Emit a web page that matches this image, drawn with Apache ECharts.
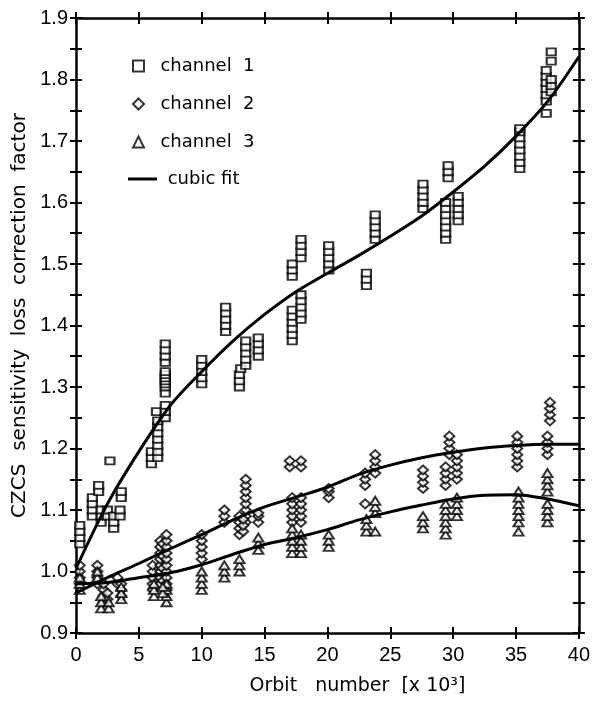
<!DOCTYPE html>
<html>
<head>
<meta charset="utf-8">
<script src="https://cdn.jsdelivr.net/npm/echarts@6/dist/echarts.min.js"></script>
<style>
  html, body { margin: 0; padding: 0; background: #fff; }
  #chart { width: 593px; height: 701px; }
</style>
</head>
<body>
<div id="chart"></div>
<script>
// tick labels
const xTicks = [0, 5, 10, 15, 20, 25, 30, 35, 40];
const yTicks = [0.9, 1.0, 1.1, 1.2, 1.3, 1.4, 1.5, 1.6, 1.7, 1.8, 1.9];

// channel 1 (squares) [orbit x1000, factor]
const channel1 = [
  [0.3, 1.045], [0.3, 1.055], [0.3, 1.065], [0.3, 1.075],
  [1.3, 1.09], [1.3, 1.10], [1.3, 1.11], [1.3, 1.12],
  [1.8, 1.13], [1.8, 1.14],
  [2.0, 1.08], [2.0, 1.09], [2.0, 1.10],
  [2.5, 1.09], [2.5, 1.10], [2.7, 1.18],
  [3.0, 1.07], [3.0, 1.08], [3.0, 1.09],
  [3.5, 1.09], [3.5, 1.10], [3.6, 1.12], [3.6, 1.13],
  [6.0, 1.175], [6.0, 1.185], [6.0, 1.195],
  [6.5, 1.185], [6.5, 1.195], [6.5, 1.205], [6.5, 1.215], [6.5, 1.225], [6.5, 1.235], [6.5, 1.245], [6.4, 1.26],
  [7.1, 1.25], [7.1, 1.26], [7.1, 1.27], [7.1, 1.29], [7.1, 1.30], [7.1, 1.305], [7.1, 1.31], [7.1, 1.315], [7.1, 1.32], [7.1, 1.325],
  [7.1, 1.34], [7.1, 1.35], [7.1, 1.36], [7.1, 1.37],
  [10.0, 1.305], [10.0, 1.315], [10.0, 1.325], [10.0, 1.335], [10.0, 1.345],
  [11.9, 1.39], [11.9, 1.40], [11.9, 1.41], [11.9, 1.42], [11.9, 1.43],
  [13.0, 1.30], [13.0, 1.31], [13.0, 1.32], [13.1, 1.33],
  [13.5, 1.335], [13.5, 1.345], [13.5, 1.355], [13.5, 1.365], [13.5, 1.375],
  [14.5, 1.35], [14.5, 1.36], [14.5, 1.37], [14.5, 1.38],
  [17.2, 1.375], [17.2, 1.385], [17.2, 1.395], [17.2, 1.405], [17.2, 1.415], [17.2, 1.425],
  [17.2, 1.48], [17.2, 1.49], [17.2, 1.50],
  [17.9, 1.41], [17.9, 1.42], [17.9, 1.43], [17.9, 1.44], [17.9, 1.45],
  [17.9, 1.51], [17.9, 1.52], [17.9, 1.53], [17.9, 1.54],
  [20.1, 1.49], [20.1, 1.50], [20.1, 1.51], [20.1, 1.52], [20.1, 1.53],
  [23.1, 1.465], [23.1, 1.475], [23.1, 1.485],
  [23.8, 1.54], [23.8, 1.55], [23.8, 1.56], [23.8, 1.57], [23.8, 1.58],
  [27.6, 1.59], [27.6, 1.60], [27.6, 1.61], [27.6, 1.62], [27.6, 1.63],
  [29.4, 1.54], [29.4, 1.55], [29.4, 1.56], [29.4, 1.57], [29.4, 1.58], [29.4, 1.59], [29.4, 1.60],
  [29.6, 1.64], [29.6, 1.65], [29.6, 1.66],
  [30.4, 1.57], [30.4, 1.58], [30.4, 1.59], [30.4, 1.60], [30.4, 1.61],
  [35.3, 1.655], [35.3, 1.665], [35.3, 1.675], [35.3, 1.685], [35.3, 1.695], [35.3, 1.705], [35.3, 1.715], [35.3, 1.72],
  [37.4, 1.745], [37.4, 1.765], [37.4, 1.775], [37.4, 1.785], [37.4, 1.795], [37.4, 1.805], [37.4, 1.815],
  [37.8, 1.78], [37.8, 1.79], [37.8, 1.80], [37.8, 1.83], [37.8, 1.845]
];

// channel 2 (diamonds)
const channel2 = [
  [0.3, 0.98], [0.3, 0.99], [0.3, 1.00], [0.3, 1.01],
  [1.7, 0.98], [1.7, 0.99], [1.7, 1.00], [1.7, 1.01],
  [2.2, 0.95], [2.2, 0.96], [2.2, 0.97], [2.2, 0.98], [2.5, 0.955], [2.5, 0.965],
  [3.3, 0.98], [3.3, 0.99],
  [3.6, 0.96], [3.6, 0.97], [3.6, 0.98],
  [6.1, 0.97], [6.1, 0.98], [6.1, 0.99], [6.1, 1.00], [6.1, 1.01],
  [6.7, 0.98], [6.7, 0.99], [6.7, 1.00], [6.7, 1.01], [6.7, 1.02], [6.7, 1.03], [6.7, 1.04], [6.7, 1.05],
  [6.9, 0.985], [6.9, 1.005], [6.9, 1.025], [6.9, 1.045],
  [7.2, 0.97], [7.2, 0.98], [7.2, 0.99], [7.2, 1.00], [7.2, 1.01], [7.2, 1.02], [7.2, 1.03], [7.2, 1.04], [7.2, 1.05], [7.2, 1.06],
  [10.0, 1.02], [10.0, 1.03], [10.0, 1.04], [10.0, 1.05], [10.0, 1.06],
  [11.8, 1.08], [11.8, 1.09], [11.8, 1.10],
  [13.0, 1.06], [13.0, 1.07], [13.0, 1.08], [13.0, 1.09],
  [13.5, 1.08], [13.5, 1.09], [13.5, 1.10], [13.5, 1.11], [13.5, 1.12], [13.5, 1.13], [13.5, 1.14], [13.5, 1.15],
  [13.3, 1.065], [13.3, 1.075], [13.3, 1.085],
  [14.5, 1.08], [14.5, 1.09], [14.5, 1.095],
  [17.0, 1.17], [17.0, 1.18],
  [17.2, 1.08], [17.2, 1.09], [17.2, 1.10], [17.2, 1.11], [17.2, 1.12],
  [17.9, 1.17], [17.9, 1.18], [17.9, 1.08], [17.9, 1.09], [17.9, 1.10], [17.9, 1.11], [17.9, 1.12],
  [20.1, 1.12], [20.1, 1.13], [20.1, 1.135],
  [23.0, 1.11], [23.0, 1.14], [23.0, 1.15], [23.0, 1.16],
  [23.8, 1.16], [23.8, 1.17], [23.8, 1.18], [23.8, 1.19],
  [27.6, 1.135], [27.6, 1.145], [27.6, 1.155], [27.6, 1.165],
  [29.4, 1.14], [29.4, 1.15], [29.4, 1.16], [29.4, 1.17],
  [29.7, 1.19], [29.7, 1.20], [29.7, 1.21], [29.7, 1.22],
  [30.3, 1.15], [30.3, 1.16], [30.3, 1.17], [30.3, 1.18], [30.3, 1.19],
  [35.1, 1.17], [35.1, 1.18], [35.1, 1.19], [35.1, 1.20], [35.1, 1.21], [35.1, 1.22],
  [37.5, 1.19], [37.5, 1.20], [37.5, 1.21], [37.5, 1.22],
  [37.7, 1.245], [37.7, 1.255], [37.7, 1.265], [37.7, 1.275]
];

// channel 3 (triangles)
const channel3 = [
  [0.3, 0.97], [0.3, 0.98], [0.3, 0.99],
  [1.7, 0.99], [1.7, 1.00],
  [2.0, 0.94], [2.0, 0.95], [2.0, 0.96],
  [2.6, 0.94], [2.6, 0.95],
  [3.6, 0.955], [3.6, 0.965], [3.6, 0.975],
  [6.2, 0.96], [6.2, 0.97], [6.2, 0.98],
  [7.2, 0.95], [7.2, 0.96], [7.2, 0.97], [7.2, 0.98], [6.9, 0.965], [6.9, 0.975],
  [10.0, 0.97], [10.0, 0.98], [10.0, 0.99], [10.0, 1.00],
  [11.8, 0.99], [11.8, 1.00], [11.8, 1.01],
  [13.0, 1.00], [13.0, 1.01], [13.0, 1.02],
  [14.5, 1.035], [14.5, 1.045], [14.5, 1.055],
  [17.2, 1.03], [17.2, 1.04], [17.2, 1.05], [17.2, 1.06], [17.2, 1.07],
  [17.9, 1.03], [17.9, 1.04], [17.9, 1.05], [17.9, 1.06],
  [20.1, 1.04], [20.1, 1.05], [20.1, 1.06],
  [23.1, 1.065], [23.1, 1.075], [23.1, 1.085],
  [23.8, 1.065], [23.8, 1.095], [23.8, 1.105], [23.8, 1.115],
  [27.6, 1.07], [27.6, 1.08], [27.6, 1.09],
  [29.4, 1.06], [29.4, 1.07], [29.4, 1.08], [29.4, 1.09], [29.4, 1.10], [29.4, 1.11],
  [30.3, 1.09], [30.3, 1.10], [30.3, 1.11], [30.3, 1.12],
  [35.2, 1.065], [35.2, 1.08], [35.2, 1.09], [35.2, 1.10], [35.2, 1.11], [35.2, 1.12], [35.2, 1.13],
  [37.5, 1.08], [37.5, 1.09], [37.5, 1.10], [37.5, 1.11], [37.5, 1.13], [37.5, 1.14], [37.5, 1.15], [37.5, 1.16]
];

// cubic fits
const fitX = [0, 2.5, 5, 7.5, 10, 12.5, 15, 17.5, 20, 22.5, 25, 27.5, 30, 32.5, 35, 37.5, 40];
const fit1 = [1.005, 1.11, 1.195, 1.27, 1.325, 1.375, 1.418, 1.455, 1.485, 1.514, 1.545, 1.578, 1.617, 1.659, 1.708, 1.764, 1.837];
const fit2 = [0.965, 0.99, 1.013, 1.037, 1.06, 1.084, 1.105, 1.121, 1.137, 1.158, 1.173, 1.185, 1.194, 1.201, 1.205, 1.207, 1.207];
const fit3 = [0.98, 0.982, 0.99, 0.998, 1.011, 1.028, 1.044, 1.055, 1.068, 1.084, 1.097, 1.108, 1.118, 1.124, 1.125, 1.118, 1.107];

const FONT = "DejaVu Sans";
const NUMFONT = "'Liberation Sans Narrow', 'Liberation Sans', sans-serif";
const chart = echarts.init(document.getElementById("chart"));

function xAx(pos, inside, labels) {
  return {
    type: "value", position: pos, min: 0, max: 40, interval: 5,
    axisLine: { show: !inside, onZero: false, lineStyle: { color: "#000", width: 2.5 } },
    axisTick: { show: true, inside: inside, length: 6, lineStyle: { color: "#000", width: 2 } },
    axisLabel: { show: labels, margin: 12, color: "#000", fontFamily: NUMFONT, fontSize: 20,
      formatter: v => xTicks.indexOf(v) >= 0 ? String(v) : "" },
    splitLine: { show: false }
  };
}
function yAx(pos, inside, labels) {
  return {
    type: "value", position: pos, min: 0.9, max: 1.9, interval: 0.1,
    axisLine: { show: !inside, onZero: false, lineStyle: { color: "#000", width: 2.5 } },
    axisTick: { show: true, inside: inside, length: 6, lineStyle: { color: "#000", width: 2 } },
    minorTick: { show: true, splitNumber: 2, length: 6, lineStyle: { color: "#000", width: 2 } },
    axisLabel: { show: labels, margin: 8, color: "#000", fontFamily: NUMFONT, fontSize: 20,
      formatter: v => yTicks.find(t => Math.abs(t - v) < 1e-6) !== undefined ? v.toFixed(1) : "" },
    splitLine: { show: false }
  };
}

const xAxes = [xAx("bottom", false, true), xAx("bottom", true, false), xAx("top", false, false), xAx("top", true, false)];
xAxes[0].name = "Orbit   number  [x 10\u00b3]";
xAxes[0].nameLocation = "middle";
xAxes[0].nameGap = 44;
xAxes[0].nameTextStyle = { color: "#000", fontFamily: FONT, fontSize: 19, padding: [0, 0, 0, 60] };

const yAxes = [yAx("left", false, true), yAx("left", true, false), yAx("right", false, false), yAx("right", true, false)];
yAxes[0].name = "CZCS  sensitivity  loss  correction  factor";
yAxes[0].nameLocation = "middle";
yAxes[0].nameGap = 46;
yAxes[0].nameTextStyle = { color: "#000", fontFamily: FONT, fontSize: 20, padding: [0, 0, 0, 20] };

const markStyle = { color: "#fff", borderColor: "#000", borderWidth: 2 };
const lineStyle = { color: "#000", width: 3 };
const legendText = { color: "#000", fontFamily: FONT, fontSize: 18 };

function fitData(ys) {
  return fitX.map((x, i) => [x, ys[i]]);
}

const option = {
  backgroundColor: "#fff",
  animation: false,
  grid: { left: 76, right: 11, top: 18, bottom: 64 },
  legend: [
    {
      orient: "vertical", left: 127, top: 52, itemWidth: 11, itemHeight: 11, itemGap: 20,
      textStyle: legendText,
      formatter: n => "  " + n.replace(" ", "  "),
      data: [
        { name: "channel 1", icon: "rect" },
        { name: "channel 2", icon: "diamond" },
        { name: "channel 3", icon: "triangle" }
      ]
    },
    {
      orient: "vertical", left: 123, top: 165, itemWidth: 29, itemHeight: 3,
      textStyle: legendText,
      formatter: n => " " + n,
      data: [{ name: "cubic fit", icon: "rect" }]
    }
  ],
  xAxis: xAxes,
  yAxis: yAxes,
  series: [
    { name: "channel 1", type: "scatter", symbol: "rect", symbolSize: [9, 7], itemStyle: markStyle, data: channel1, z: 2 },
    { name: "channel 2", type: "scatter", symbol: "diamond", symbolSize: [10, 9], itemStyle: markStyle, data: channel2, z: 2 },
    { name: "channel 3", type: "scatter", symbol: "triangle", symbolSize: [10, 8], itemStyle: markStyle, data: channel3, z: 2 },
    { name: "cubic fit", type: "line", smooth: 0.3, symbol: "none", lineStyle: lineStyle, itemStyle: { color: "#000" }, data: fitData(fit1), z: 3 },
    { name: "cubic fit", type: "line", smooth: 0.3, symbol: "none", lineStyle: lineStyle, itemStyle: { color: "#000" }, data: fitData(fit2), z: 3 },
    { name: "cubic fit", type: "line", smooth: 0.3, symbol: "none", lineStyle: lineStyle, itemStyle: { color: "#000" }, data: fitData(fit3), z: 3 }
  ]
};
chart.setOption(option);
</script>
</body>
</html>
